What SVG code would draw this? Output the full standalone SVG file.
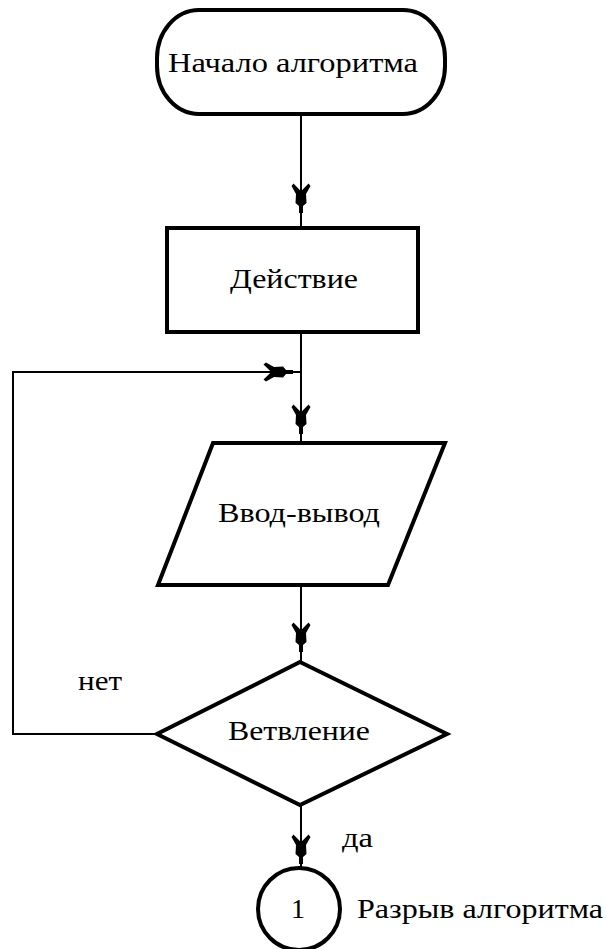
<svg xmlns="http://www.w3.org/2000/svg" width="606" height="949" viewBox="0 0 606 949">
  <style>
    .shape { fill: #ffffff; stroke: #000000; stroke-width: 4; stroke-linejoin: miter; }
    .conn { fill: none; stroke: #000000; stroke-width: 2; }
    .mid { marker-mid: url(#arrow); }
    .end { marker-end: url(#arrow); }
    .lbl { font-family: "Liberation Serif", "DejaVu Serif", serif; font-size: 28px; fill: #000000; }
  </style>
  <defs>
    <marker id="arrow" markerUnits="userSpaceOnUse" viewBox="-32 -12 34 24" markerWidth="34" markerHeight="24" refX="0" refY="0" orient="auto" overflow="visible">
      <polygon points="0,-2 -7,-2 -10,-5.5 -19,-5 -27,-9.5 -29.5,-7.5 -23,-1.2 -23,1.2 -29.5,7.5 -27,9.5 -19,5 -10,5.5 -7,2 0,2" fill="#000000"/>
    </marker>
  </defs>
  <rect width="606" height="949" fill="#ffffff"/>

  <g id="connectors">
    <path class="conn mid" d="M301,115 L301,213 L301,228"/>
    <path class="conn mid" d="M301,332 L301,434 L301,443"/>
    <path class="conn mid" d="M301,585 L301,652 L301,662"/>
    <path class="conn mid" d="M301,805 L301,864 L301,868"/>
    <path class="conn end" d="M157,734 L13,734 L13,372 L293,372"/>
    <path class="conn" d="M293,372 L300,372"/>
  </g>

  <g id="start">
    <rect class="shape" x="157" y="10" width="288" height="104" rx="42" ry="48"/>
    <text class="lbl" x="168" y="72" textLength="250" lengthAdjust="spacingAndGlyphs">Начало алгоритма</text>
  </g>

  <g id="action">
    <rect class="shape" x="167" y="228" width="251" height="104"/>
    <text class="lbl" x="230" y="288" textLength="128" lengthAdjust="spacingAndGlyphs">Действие</text>
  </g>

  <g id="io">
    <polygon class="shape" points="213,443 445,443 388,585 158,585"/>
    <text class="lbl" x="218" y="522" textLength="162" lengthAdjust="spacingAndGlyphs">Ввод-вывод</text>
  </g>

  <g id="branch">
    <polygon class="shape" points="300,662 447,734 300,805 157,734"/>
    <text class="lbl" x="228" y="740" textLength="142" lengthAdjust="spacingAndGlyphs">Ветвление</text>
  </g>

  <g id="label-no">
    <text class="lbl" x="78" y="690" textLength="44" lengthAdjust="spacingAndGlyphs">нет</text>
  </g>

  <g id="label-yes">
    <text class="lbl" x="342" y="847" textLength="31" lengthAdjust="spacingAndGlyphs">да</text>
  </g>

  <g id="connector-node">
    <circle class="shape" cx="299" cy="909" r="41" stroke-width="3.5"/>
    <text class="lbl" x="298" y="918" text-anchor="middle">1</text>
  </g>

  <g id="break-label">
    <text class="lbl" x="357" y="918" textLength="246" lengthAdjust="spacingAndGlyphs">Разрыв алгоритма</text>
  </g>
</svg>
